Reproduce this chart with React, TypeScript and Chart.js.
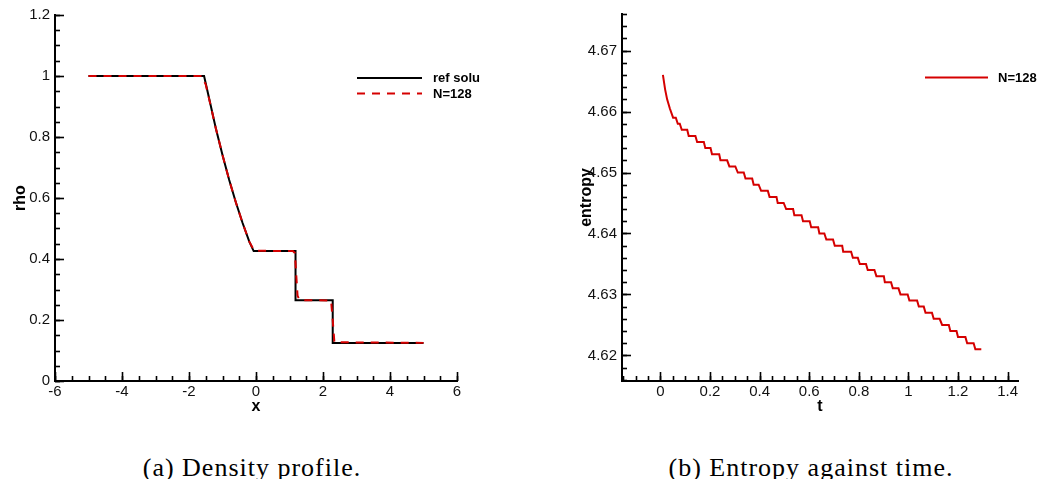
import React, { useEffect, useRef } from "react";
import { Chart, registerables } from "chart.js";

Chart.register(...registerables);

// ---------- Data: (a) density profile ----------
const REF_X = [-5, -1.55, -1.4, -1.2, -1.0, -0.8, -0.6, -0.4, -0.2, -0.07, 1.18, 1.18, 2.29, 2.29, 5];
const REF_RHO = [1, 1, 0.927, 0.829, 0.741, 0.659, 0.585, 0.518, 0.457, 0.426, 0.426, 0.265, 0.265, 0.125, 0.125];
const NUM_X = [-5, -1.62, -1.5, -1.4, -1.2, -1.0, -0.8, -0.6, -0.4, -0.2, -0.05, 1.1, 1.16, 1.24, 1.3, 2.24, 2.29, 2.34, 5];
const NUM_RHO = [1, 1, 0.972, 0.925, 0.829, 0.741, 0.659, 0.585, 0.518, 0.457, 0.427, 0.426, 0.42, 0.28, 0.265, 0.264, 0.2, 0.127, 0.125];
const X_TICKS_A = [-6, -4, -2, 0, 2, 4, 6];
const Y_TICKS_A = [0, 0.2, 0.4, 0.6, 0.8, 1, 1.2];

// ---------- Data: (b) entropy against time ----------
const ENT_T = [
  0.01, 0.019, 0.027, 0.038,
  0.051, 0.062, 0.07, 0.078, 0.086, 0.108, 0.114, 0.141, 0.148, 0.175,
  0.181, 0.202, 0.208, 0.237, 0.242, 0.269, 0.278, 0.302, 0.312, 0.336,
  0.343, 0.37, 0.376, 0.396, 0.406, 0.433, 0.44, 0.468, 0.473, 0.497,
  0.507, 0.535, 0.54, 0.569, 0.575, 0.602, 0.608, 0.636, 0.641, 0.661,
  0.669, 0.696, 0.703, 0.733, 0.737, 0.769, 0.776, 0.796, 0.804, 0.829,
  0.836, 0.863, 0.871, 0.901, 0.905, 0.93, 0.937, 0.96, 0.968, 0.997,
  1.004, 1.035, 1.042, 1.062, 1.069, 1.095, 1.102, 1.126, 1.136, 1.163,
  1.169, 1.194, 1.2, 1.23, 1.237, 1.263, 1.27, 1.294,
];
const ENT_S = [
  4.666, 4.6636, 4.662, 4.6605,
  4.659, 4.659, 4.658, 4.658, 4.657, 4.657, 4.656, 4.656, 4.655, 4.655,
  4.654, 4.654, 4.653, 4.653, 4.652, 4.652, 4.651, 4.651, 4.65, 4.65,
  4.649, 4.649, 4.648, 4.648, 4.647, 4.647, 4.646, 4.646, 4.645, 4.645,
  4.644, 4.644, 4.643, 4.643, 4.642, 4.642, 4.641, 4.641, 4.64, 4.64,
  4.639, 4.639, 4.638, 4.638, 4.637, 4.637, 4.636, 4.636, 4.635, 4.635,
  4.634, 4.634, 4.633, 4.633, 4.632, 4.632, 4.631, 4.631, 4.63, 4.63,
  4.629, 4.629, 4.628, 4.628, 4.627, 4.627, 4.626, 4.626, 4.625, 4.625,
  4.624, 4.624, 4.623, 4.623, 4.622, 4.622, 4.621, 4.621,
];
const X_TICKS_B = [0, 0.2, 0.4, 0.6, 0.8, 1, 1.2, 1.4];
const Y_TICKS_B = [4.62, 4.63, 4.64, 4.65, 4.66, 4.67];

const SANS = "'Liberation Sans', Arial, Helvetica, sans-serif";
const RED = "#d50000";

// Inward major/minor ticks (Tecplot style)
const tickPlugin = {
  id: "inwardTicks",
  afterDraw(chart: any, _args: any, opts: any) {
    const ctx = chart.ctx;
    const area = chart.chartArea;
    ctx.save();
    ctx.strokeStyle = "#000";
    ctx.lineWidth = 1.6;
    const xs = chart.scales.x;
    const ys = chart.scales.y;
    const drawX = (v: number, len: number) => {
      const p = Math.round(xs.getPixelForValue(v)) + 0.5;
      if (p < area.left - 1 || p > area.right + 1) return;
      ctx.beginPath();
      ctx.moveTo(p, area.bottom);
      ctx.lineTo(p, area.bottom - len);
      ctx.stroke();
    };
    const drawY = (v: number, len: number) => {
      const p = Math.round(ys.getPixelForValue(v)) + 0.5;
      if (p < area.top - 1 || p > area.bottom + 1) return;
      ctx.beginPath();
      ctx.moveTo(area.left, p);
      ctx.lineTo(area.left + len, p);
      ctx.stroke();
    };
    const k0 = Math.ceil(xs.min / opts.xMinor - 1e-9);
    for (let k = k0; k * opts.xMinor <= xs.max + 1e-9; k++) drawX(k * opts.xMinor, 5);
    const j0 = Math.ceil(ys.min / opts.yMinor - 1e-9);
    for (let j = j0; j * opts.yMinor <= ys.max + 1e-9; j++) drawY(j * opts.yMinor, 5);
    xs.ticks.forEach((t: any) => drawX(t.value, 9));
    ys.ticks.forEach((t: any) => drawY(t.value, 9));
    ctx.restore();
  },
};

// Legend drawn inside the plot like the reference
const legendPlugin = {
  id: "plotLegend",
  afterDraw(chart: any, _args: any, opts: any) {
    const ctx = chart.ctx;
    ctx.save();
    chart.data.datasets.forEach((ds: any, i: number) => {
      const y = opts.y + i * opts.gap;
      ctx.beginPath();
      ctx.strokeStyle = ds.borderColor;
      ctx.lineWidth = ds.borderWidth;
      ctx.setLineDash(ds.borderDash || []);
      ctx.moveTo(opts.x0, y);
      ctx.lineTo(opts.x1, y);
      ctx.stroke();
      ctx.setLineDash([]);
      ctx.fillStyle = "#000";
      ctx.font = `bold 13px ${SANS}`;
      ctx.textBaseline = "middle";
      ctx.textAlign = "left";
      ctx.fillText(ds.label, opts.tx, y + 0.5);
    });
    ctx.restore();
  },
};

function fmt(v: number) {
  return String(Number(v.toFixed(3)));
}

function makeScales(cfg: any) {
  const tickFont = { family: SANS, size: 15 };
  const titleFont = { family: SANS, size: 16, weight: "bold" as const };
  return {
    x: {
      type: "linear",
      min: cfg.xmin,
      max: cfg.xmax,
      afterBuildTicks: (s: any) => {
        s.ticks = cfg.xticks.map((v: number) => ({ value: v }));
      },
      afterFit: (s: any) => {
        s.height = cfg.xh;
      },
      ticks: {
        autoSkip: false,
        maxRotation: 0,
        minRotation: 0,
        padding: 2,
        color: "#111",
        font: tickFont,
        callback: (v: any) => (cfg.xfmt ? cfg.xfmt(v) : fmt(v)),
      },
      grid: { display: false, drawTicks: false },
      border: { display: true, color: "#000", width: 2 },
      title: { display: true, text: cfg.xtitle, color: "#000", font: titleFont, padding: { top: 0, bottom: 4 } },
    },
    y: {
      type: "linear",
      min: cfg.ymin,
      max: cfg.ymax,
      afterBuildTicks: (s: any) => {
        s.ticks = cfg.yticks.map((v: number) => ({ value: v }));
      },
      afterFit: (s: any) => {
        s.width = cfg.yw;
      },
      ticks: {
        autoSkip: false,
        padding: 5,
        color: "#111",
        font: tickFont,
        callback: (v: any) => (cfg.yfmt ? cfg.yfmt(v) : fmt(v)),
      },
      grid: { display: false, drawTicks: false },
      border: { display: true, color: "#000", width: 2 },
      title: { display: true, text: cfg.ytitle, color: "#000", font: titleFont, padding: { top: cfg.ytitlePad, bottom: 0 } },
    },
  };
}

function DensityChart() {
  const ref = useRef<HTMLCanvasElement | null>(null);
  useEffect(() => {
    if (!ref.current) return;
    const chart = new Chart(ref.current, {
      type: "line",
      data: {
        datasets: [
          {
            label: "ref solution",
            data: REF_X.map((x, i) => ({ x, y: REF_RHO[i] })),
            borderColor: "#000",
            borderWidth: 2,
            pointRadius: 0,
            tension: 0,
            order: 2,
          },
          {
            label: "N=128",
            data: NUM_X.map((x, i) => ({ x, y: NUM_RHO[i] })),
            borderColor: RED,
            borderWidth: 2,
            borderDash: [8, 7],
            pointRadius: 0,
            tension: 0,
            order: 1,
          },
        ],
      },
      options: {
        animation: false,
        responsive: false,
        events: [],
        layout: { padding: { top: 15, right: 23, bottom: 0, left: 0 } },
        plugins: {
          legend: { display: false },
          tooltip: { enabled: false },
          plotLegend: { x0: 357, x1: 422, tx: 433, y: 78, gap: 15.5 },
          inwardTicks: { xMinor: 0.5, yMinor: 0.05 },
        } as any,
        scales: makeScales({
          xmin: -6, xmax: 6, ymin: 0, ymax: 1.2,
          xticks: X_TICKS_A, yticks: Y_TICKS_A,
          xtitle: "x", ytitle: "rho", xh: 39, yw: 55, ytitlePad: 11,
        }) as any,
      },
      plugins: [tickPlugin, legendPlugin],
    } as any);
    return () => chart.destroy();
  }, []);
  return <canvas ref={ref} width={480} height={420} style={{ position: "absolute", left: 0, top: 0, width: 480, height: 420 }} />;
}

function EntropyChart() {
  const ref = useRef<HTMLCanvasElement | null>(null);
  useEffect(() => {
    if (!ref.current) return;
    const chart = new Chart(ref.current, {
      type: "line",
      data: {
        datasets: [
          {
            label: "N=128",
            data: ENT_T.map((x, i) => ({ x, y: ENT_S[i] })),
            borderColor: RED,
            borderWidth: 2,
            pointRadius: 0,
            tension: 0,
          },
        ],
      },
      options: {
        animation: false,
        responsive: false,
        events: [],
        layout: { padding: { top: 14, right: 33, bottom: 0, left: 0 } },
        plugins: {
          legend: { display: false },
          tooltip: { enabled: false },
          plotLegend: { x0: 385, x1: 448, tx: 458, y: 77.5, gap: 15.5 },
          inwardTicks: { xMinor: 0.05, yMinor: 0.002 },
        } as any,
        scales: makeScales({
          xmin: -0.155, xmax: 1.442, ymin: 4.6158, ymax: 4.676,
          xticks: X_TICKS_B, yticks: Y_TICKS_B,
          xtitle: "t", ytitle: "entropy", xh: 39, yw: 82, ytitlePad: 37,
          yfmt: (v: number) => v.toFixed(2),
        }) as any,
      },
      plugins: [tickPlugin, legendPlugin],
    } as any);
    return () => chart.destroy();
  }, []);
  return <canvas ref={ref} width={511} height={420} style={{ position: "absolute", left: 540, top: 0, width: 511, height: 420 }} />;
}

const captionStyle: React.CSSProperties = {
  position: "absolute",
  top: 455,
  fontFamily: "'Liberation Serif', 'Times New Roman', serif",
  fontSize: 26,
  lineHeight: "26px",
  letterSpacing: "1px",
  color: "#000",
  textAlign: "center",
  whiteSpace: "nowrap",
};

export default function App() {
  return (
    <div style={{ position: "fixed", left: 0, top: 0, width: 1051, height: 479, background: "#fff", overflow: "hidden" }}>
      <DensityChart />
      <EntropyChart />
      <div style={{ ...captionStyle, left: 52, width: 400 }}>(a) Density profile.</div>
      <div style={{ ...captionStyle, left: 611, width: 400 }}>(b) Entropy against time.</div>
    </div>
  );
}
